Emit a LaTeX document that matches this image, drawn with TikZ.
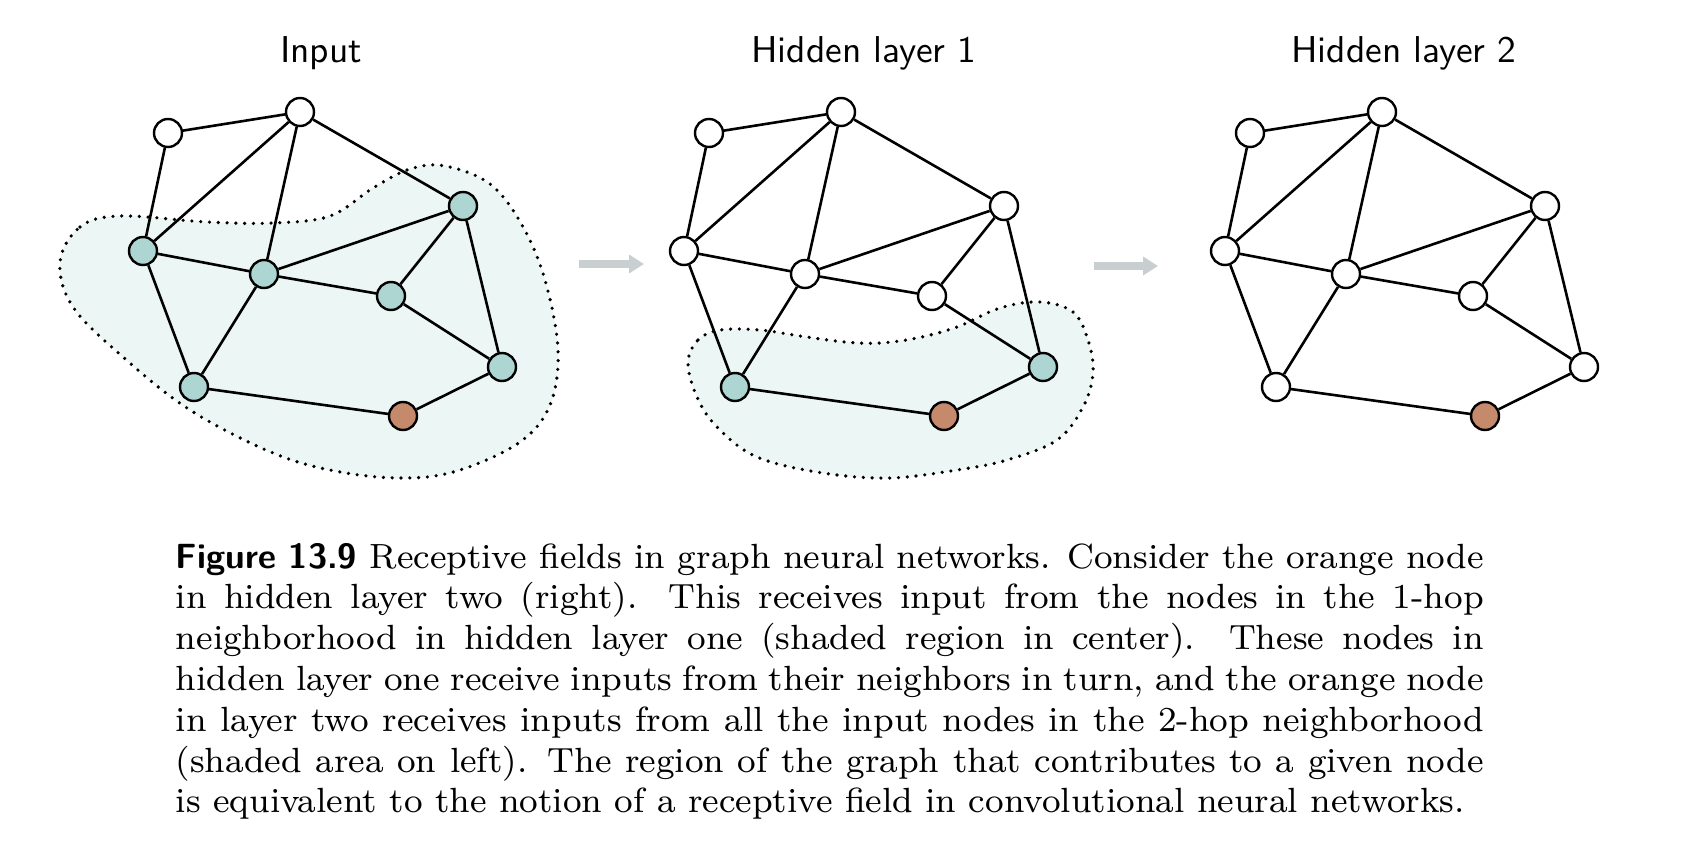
\documentclass[tikz,border=0pt]{standalone}
\usetikzlibrary{arrows.meta}

\definecolor{fieldfill}{RGB}{236,246,244}
\definecolor{hopfill}{RGB}{173,214,210}
\definecolor{targetfill}{RGB}{197,138,107}
\definecolor{flowgray}{RGB}{201,206,209}

\begin{document}
\begin{tikzpicture}[x=0.5pt, y=-0.5pt,
  vert/.style={circle, draw, line width=1.2pt, minimum size=14pt, inner sep=0pt, fill=white},
  hop/.style={vert, fill=hopfill},
  target/.style={vert, fill=targetfill},
  edge/.style={line width=1.3pt},
  field/.style={fill=fieldfill, line width=1.8pt, dash pattern=on 0pt off 4.4pt, line cap=round},
  flow/.style={flowgray, line width=3.8pt, -{Triangle[length=7.5pt, width=9pt]}},
  title/.style={font=\sffamily\fontsize{10}{12}\selectfont, scale=1.87, anchor=base},
  caption/.style={font=\fontsize{8}{9.33}\selectfont, scale=2.187, text width=299pt,
    inner sep=0pt, align=justify, anchor=base west}]
  \useasboundingbox (0,0) rectangle (1684,850);
  % Receptive fields (2-hop on the left, 1-hop in the centre)
  \draw[field] plot[smooth cycle, tension=0.6] coordinates {(60,262) (80,227) (120,216)
    (207,222) (273,223) (330,216) (373,188) (410,169) (445,166) (490,184) (522,225)
    (545,280) (558,350) (550,405) (520,442) (460,470) (407,478) (340,472) (273,453)
    (190,410) (123,357) (73,307)};
  \draw[field] plot[smooth cycle, tension=0.6] coordinates {(688,363) (698,340) (720,330)
    (760,330) (800,336) (845,342) (880,343) (917,338) (957,327) (1000,308) (1040,302)
    (1073,312) (1088,340) (1093,373) (1083,407) (1057,440) (1007,460) (957,470)
    (890,478) (823,473) (757,457) (717,427) (697,397)};
  % Titles
  \node[title] (tinp) at (321,63) {Input};
  \node[title] (thida) at (864,63) {Hidden layer 1};
  \node[title] (thidb) at (1404,63) {Hidden layer 2};
  % Input graph
  \node[vert] (inpa) at (168,133) {};
  \node[vert] (inpb) at (300,112) {};
  \node[hop] (inpc) at (143,251) {};
  \node[hop] (inpd) at (264,274) {};
  \node[hop] (inpe) at (463,206) {};
  \node[hop] (inpf) at (391,296) {};
  \node[hop] (inpg) at (194,387) {};
  \node[target] (inph) at (403,416) {};
  \node[hop] (inpi) at (502,367) {};
  % Hidden layer 1
  \begin{scope}[xshift=270.5pt]
    \node[vert] (hidaa) at (168,133) {};
    \node[vert] (hidab) at (300,112) {};
    \node[vert] (hidac) at (143,251) {};
    \node[vert] (hidad) at (264,274) {};
    \node[vert] (hidae) at (463,206) {};
    \node[vert] (hidaf) at (391,296) {};
    \node[hop] (hidag) at (194,387) {};
    \node[target] (hidah) at (403,416) {};
    \node[hop] (hidai) at (502,367) {};
  \end{scope}
  % Hidden layer 2
  \begin{scope}[xshift=541pt]
    \node[vert] (hidba) at (168,133) {};
    \node[vert] (hidbb) at (300,112) {};
    \node[vert] (hidbc) at (143,251) {};
    \node[vert] (hidbd) at (264,274) {};
    \node[vert] (hidbe) at (463,206) {};
    \node[vert] (hidbf) at (391,296) {};
    \node[vert] (hidbg) at (194,387) {};
    \node[target] (hidbh) at (403,416) {};
    \node[vert] (hidbi) at (502,367) {};
  \end{scope}
  % Edges, same in every layer
  \foreach \p in {inp,hida,hidb}
    \foreach \u/\v in {a/b,a/c,b/c,b/d,b/e,c/d,c/g,d/e,d/f,d/g,e/f,e/i,f/i,g/h,h/i}
      \draw[edge] (\p\u) -- (\p\v);
  % Layer arrows
  \coordinate (flowas) at (579,264);
  \coordinate (flowae) at (644,264);
  \coordinate (flowbs) at (1094,266);
  \coordinate (flowbe) at (1158,266);
  \draw[flow] (flowas) -- (flowae);
  \draw[flow] (flowbs) -- (flowbe);
  % Caption
  \node[caption] (cap) at (175,568) {{\sffamily\bfseries Figure 13.9} Receptive fields in graph neural networks. Consider the orange node\linebreak
    in hidden layer two (right). This receives input from the nodes in the 1-hop\linebreak
    neighborhood in hidden layer one (shaded region in center). These nodes in\linebreak
    hidden layer one receive inputs from their neighbors in turn, and the orange node\linebreak
    in layer two receives inputs from all the input nodes in the 2-hop neighborhood\linebreak
    (shaded area on left). The region of the graph that contributes to a given node\linebreak
    is equivalent to the notion of a receptive field in convolutional neural networks.};
\end{tikzpicture}
\end{document}
